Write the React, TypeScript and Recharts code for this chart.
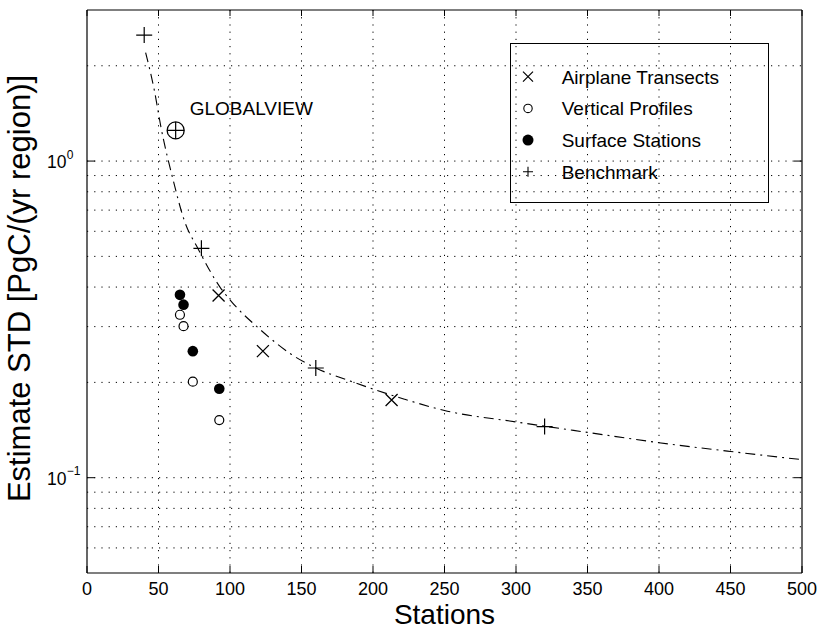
import React from "react";
import {
  ComposedChart, XAxis, YAxis, CartesianGrid, Line, Scatter, Legend, Label,
} from "recharts";

// stations vs. estimated STD
const benchX = [40, 80, 160, 320];
const benchY = [2.5, 0.53, 0.222, 0.145];

const airplaneX = [92, 123, 213];
const airplaneY = [0.376, 0.251, 0.176];

const verticalX = [65, 67.5, 74, 92.5];
const verticalY = [0.327, 0.301, 0.201, 0.152];

const surfaceX = [65, 67.5, 74, 92.5];
const surfaceY = [0.378, 0.352, 0.251, 0.191];

const globalX = [62];
const globalY = [1.25];
const globalLabel = ["GLOBALVIEW"];

// dash-dot fitted curve
const curveX = [41, 47, 52, 60, 68, 78, 93, 101, 121, 143, 160, 184, 222, 250, 300, 350, 400, 450, 500];
const curveY = [2.2, 1.68, 1.26, 0.88, 0.65, 0.525, 0.40, 0.36, 0.294, 0.245, 0.222, 0.202, 0.177, 0.163, 0.150, 0.139, 0.129, 0.121, 0.114];

const xTicks = [0, 50, 100, 150, 200, 250, 300, 350, 400, 450, 500];
const yTicks = [0.1, 1];
const yTickExp = ["\u22121", "0"];
const gridX = [50, 100, 150, 200, 250, 300, 350, 400, 450];
const gridY = [0.06, 0.07, 0.08, 0.09, 0.1, 0.2, 0.3, 0.4, 0.5, 0.6, 0.7, 0.8, 0.9, 1, 2];

const legendNames = ["Airplane Transects", "Vertical Profiles", "Surface Stations", "Benchmark"];

const zip = (xs: number[], ys: number[]) => xs.map((x, i) => ({ x, y: ys[i] }));
const benchData = zip(benchX, benchY);
const airplaneData = zip(airplaneX, airplaneY);
const verticalData = zip(verticalX, verticalY);
const surfaceData = zip(surfaceX, surfaceY);
const curveData = zip(curveX, curveY);
const globalData = globalX.map((x, i) => ({ x, y: globalY[i], label: globalLabel[i] }));

const FONT = "'Liberation Sans', Arial, Helvetica, sans-serif";

const crossPath = (cx: number, cy: number, s: number) =>
  `M${cx - s},${cy - s}L${cx + s},${cy + s}M${cx - s},${cy + s}L${cx + s},${cy - s}`;
const plusPath = (cx: number, cy: number, s: number) =>
  `M${cx - s},${cy}L${cx + s},${cy}M${cx},${cy - s}L${cx},${cy + s}`;

const CrossShape = ({ cx, cy }: any) => (
  <path d={crossPath(cx, cy, 6)} stroke="#000" strokeWidth={1.3} fill="none" />
);
const PlusShape = ({ cx, cy }: any) => (
  <path d={plusPath(cx, cy, 8)} stroke="#000" strokeWidth={1.2} fill="none" />
);
const OpenShape = ({ cx, cy }: any) => (
  <circle cx={cx} cy={cy} r={4.5} stroke="#000" strokeWidth={1.2} fill="#fff" />
);
const FilledShape = ({ cx, cy }: any) => <circle cx={cx} cy={cy} r={5.3} fill="#000" />;
const GlobalShape = ({ cx, cy, payload }: any) => (
  <g>
    <circle cx={cx} cy={cy} r={8.5} stroke="#000" strokeWidth={1.3} fill="none" />
    <path d={plusPath(cx, cy, 8.5)} stroke="#000" strokeWidth={1.2} />
    <text x={cx + 14} y={cy - 15} fontSize={19} fontFamily={FONT} fill="#000">
      {payload.label}
    </text>
  </g>
);

const XTickBottom = ({ x, y, payload }: any) => (
  <g>
    <line x1={x} y1={y} x2={x} y2={y - 7} stroke="#000" />
    <text x={x} y={y + 21.5} textAnchor="middle" fontSize={18} fontFamily={FONT} fill="#000">
      {payload.value}
    </text>
  </g>
);
const XTickTop = ({ x, y }: any) => <line x1={x} y1={y} x2={x} y2={y + 6} stroke="#000" />;

const YTickLeft = ({ x, y, payload }: any) => {
  const idx = yTicks.indexOf(payload.value);
  return (
    <g>
      <line x1={x} y1={y} x2={x + 8} y2={y} stroke="#000" />
      <text x={x - 20.5} y={y + 7} textAnchor="end" fontSize={17.5} fontFamily={FONT} fill="#000">10</text>
      <text x={x - 20.3} y={y - 2.5} textAnchor="start" fontSize={12} fontFamily={FONT} fill="#000">
        {yTickExp[idx]}
      </text>
    </g>
  );
};
const YTickRight = ({ x, y }: any) => <line x1={x} y1={y} x2={x - 8} y2={y} stroke="#000" />;

const legendShapes = [
  (cx: number, cy: number) => <path d={crossPath(cx, cy, 5)} stroke="#000" strokeWidth={1.2} fill="none" />,
  (cx: number, cy: number) => <circle cx={cx} cy={cy} r={4.2} stroke="#000" strokeWidth={1.1} fill="none" />,
  (cx: number, cy: number) => <circle cx={cx} cy={cy} r={5.5} fill="#000" />,
  (cx: number, cy: number) => <path d={plusPath(cx, cy, 5)} stroke="#000" strokeWidth={1.1} fill="none" />,
];

const renderLegend = () => (
  <svg width={259} height={160} style={{ display: "block" }}>
    <rect x={0.5} y={0.5} width={258} height={159} fill="none" stroke="#000" strokeWidth={1} />
    {legendNames.map((name, i) => {
      const cy = 33.7 + i * 31.7;
      return (
        <g key={name}>
          {legendShapes[i](18, cy)}
          <text x={51.7} y={cy + 6.8} fontSize={19} fontFamily={FONT} fill="#000">{name}</text>
        </g>
      );
    })}
  </svg>
);

const renderYLabel = ({ viewBox }: any) => {
  const cy = viewBox.y + viewBox.height / 2 - 3;
  const cx = 30;
  return (
    <text
      x={cx}
      y={cy}
      transform={`rotate(-90, ${cx}, ${cy})`}
      textAnchor="middle"
      fontSize={31}
      fontFamily={FONT}
      fill="#000"
    >
      Estimate STD [PgC/(yr region)]
    </text>
  );
};

export default function App() {
  return (
    <div style={{ position: "absolute", left: 0, top: 0, width: 820, height: 630, background: "#fff" }}>
      <ComposedChart width={820} height={630} margin={{ top: 9, right: 17, bottom: 0, left: 0 }}>
        <CartesianGrid
          horizontalValues={gridY}
          verticalValues={gridX}
          stroke="#000"
          strokeDasharray="1.2 6"
          strokeWidth={1}
        />
        <XAxis
          dataKey="x"
          type="number"
          domain={[0, 500]}
          ticks={xTicks}
          allowDataOverflow
          height={57}
          tickSize={0}
          tickMargin={0}
          tickLine={false}
          axisLine={{ stroke: "#000", strokeWidth: 1.2 }}
          tick={<XTickBottom />}
          interval={0}
        >
          <Label
            value="Stations"
            position="insideBottom"
            offset={6}
            style={{ fontSize: 28, fontFamily: FONT, fill: "#000" }}
          />
        </XAxis>
        <XAxis
          xAxisId="top"
          orientation="top"
          dataKey="x"
          type="number"
          domain={[0, 500]}
          ticks={xTicks}
          allowDataOverflow
          height={1}
          tickSize={0}
          tickMargin={0}
          tickLine={false}
          axisLine={{ stroke: "#000", strokeWidth: 1.2 }}
          tick={<XTickTop />}
          interval={0}
        />
        <YAxis
          dataKey="y"
          scale="log"
          type="number"
          domain={[0.05, 3]}
          ticks={yTicks}
          allowDataOverflow
          width={87}
          tickSize={0}
          tickMargin={0}
          tickLine={false}
          axisLine={{ stroke: "#000", strokeWidth: 1.2 }}
          tick={<YTickLeft />}
          interval={0}
          label={{ content: renderYLabel }}
        />
        <YAxis
          yAxisId="right"
          orientation="right"
          dataKey="y"
          scale="log"
          type="number"
          domain={[0.05, 3]}
          ticks={yTicks}
          allowDataOverflow
          width={1}
          tickSize={0}
          tickMargin={0}
          tickLine={false}
          axisLine={{ stroke: "#000", strokeWidth: 1.2 }}
          tick={<YTickRight />}
          interval={0}
        />
        <Line
          xAxisId="top"
          yAxisId="right"
          data={curveData}
          dataKey="y"
          type="monotone"
          stroke="#000"
          strokeWidth={1.1}
          strokeDasharray="10 5 2 5"
          dot={false}
          activeDot={false}
          legendType="none"
          isAnimationActive={false}
        />
        <Scatter name="Benchmark" data={benchData} shape={<PlusShape />} isAnimationActive={false} />
        <Scatter name="Airplane Transects" data={airplaneData} shape={<CrossShape />} isAnimationActive={false} />
        <Scatter name="Vertical Profiles" data={verticalData} shape={<OpenShape />} isAnimationActive={false} />
        <Scatter name="Surface Stations" data={surfaceData} shape={<FilledShape />} isAnimationActive={false} />
        <Scatter name="GLOBALVIEW" data={globalData} shape={<GlobalShape />} isAnimationActive={false} />
        <Legend
          layout="vertical"
          align="center"
          verticalAlign="middle"
          content={renderLegend}
          wrapperStyle={{ position: "absolute", left: 510, top: 43, width: 259, height: 160 }}
        />
      </ComposedChart>
    </div>
  );
}
